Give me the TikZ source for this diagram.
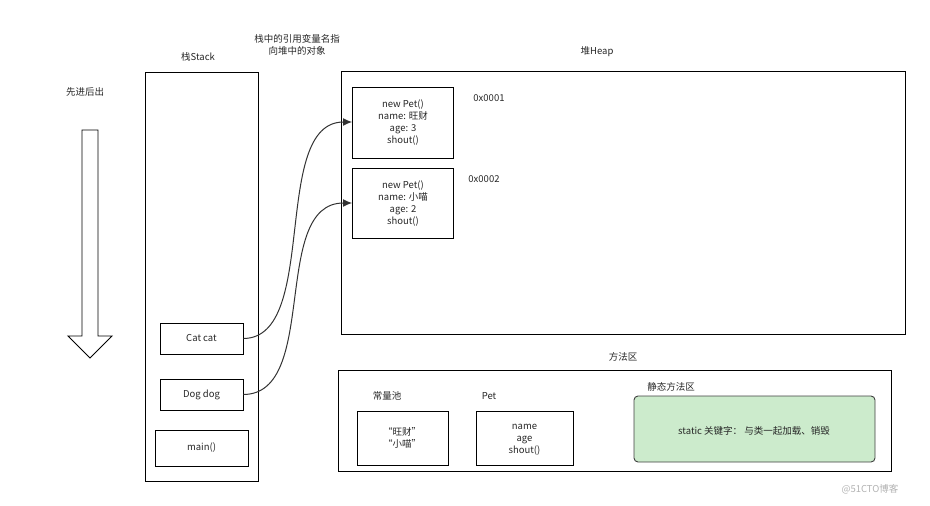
\documentclass[tikz,border=0pt]{standalone}
\usepackage{fontspec}
\setmainfont{Noto Sans CJK SC}
\usetikzlibrary{arrows.meta}
\begin{document}
\begin{tikzpicture}[x=1pt,y=-1pt,
  box/.style={draw=black,line width=0.9pt},
  lbl/.style={font=\fontsize{9.5}{12}\selectfont,text=black!85,align=center},
  con/.style={draw=black!80,line width=1pt,-{Latex[length=9pt,width=8pt]}}]
\useasboundingbox (0,0) rectangle (930,506);
\node[lbl] (t1) at (85,92) {先进后出};
\draw[line width=0.9pt] (82,130) -- (98,130) -- (98,336) -- (112,336) -- (90,358) -- (68,336) -- (82,336) -- cycle;
\draw[box] (145,72) rectangle (258,481);
\node[lbl] (t2) at (198,57) {栈Stack};
\node[lbl] (t3) at (297,45) {栈中的引用变量名指\\向堆中的对象};
\draw[box] (341,71) rectangle (905,334);
\node[lbl] (t4) at (597,52) {堆Heap};
\draw[box] (352,87) rectangle (453,158);
\node[lbl] (p1) at (403,123) {new Pet()\\name: 旺财\\age: 3\\shout()};
\node[lbl] (a1) at (489,98) {0x0001};
\draw[box] (352,168) rectangle (453,238);
\node[lbl] (p2) at (403,204) {new Pet()\\name: 小喵\\age: 2\\shout()};
\node[lbl] (a2) at (484,179) {0x0002};
\node[box,lbl,minimum width=83pt,minimum height=31pt] (cat) at (201.5,338.5) {Cat cat};
\node[box,lbl,minimum width=83pt,minimum height=31pt] (dog) at (201.5,394.5) {Dog dog};
\node[box,lbl,minimum width=93pt,minimum height=36pt] (main) at (201.5,448) {main()};
\coordinate (e1) at (352,122);
\coordinate (e2) at (352,203);
\draw[con] (cat.east) .. controls (320,338) and (270,122) .. (e1);
\draw[con] (dog.east) .. controls (320,394) and (270,203) .. (e2);
\node[lbl] (t5) at (623,357) {方法区};
\draw[box] (338,370) rectangle (891,471);
\node[lbl] (t6) at (387,396) {常量池};
\draw[box] (357,411) rectangle (448,465);
\node[lbl] (c1) at (402,438) {“旺财”\\“小喵”};
\node[lbl] (t7) at (489,396) {Pet};
\draw[box] (476,411) rectangle (573,465);
\node[lbl] (c2) at (524.5,440) {name\\age\\shout()};
\node[lbl] (t8) at (671,387) {静态方法区};
\draw[line width=0.9pt,draw=black!75,fill=green!60!black!20,rounded corners=4pt] (634,396) rectangle (875,462);
\node[lbl] (c3) at (754,431) {static 关键字： 与类一起加载、销毁};
\node[lbl,text=black!30] (wm) at (870,489) {@51CTO博客};
\end{tikzpicture}
\end{document}
